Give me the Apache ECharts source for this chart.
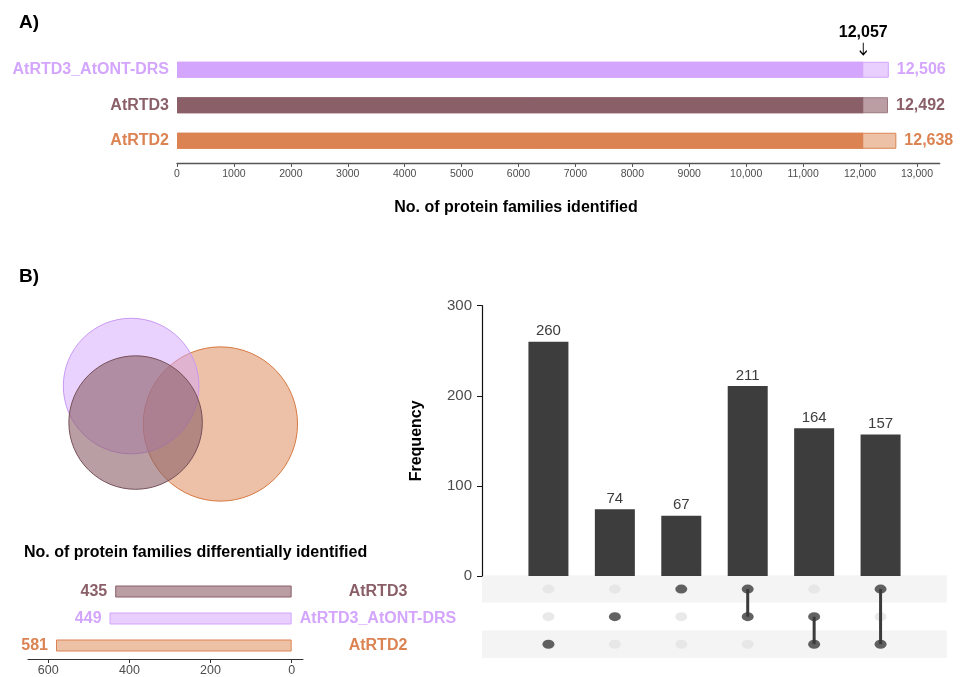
<!DOCTYPE html>
<html>
<head>
<meta charset="utf-8">
<script src="https://cdn.jsdelivr.net/npm/echarts@6/dist/echarts.min.js"></script>
<style>
  html, body { margin: 0; padding: 0; background: #ffffff; }
  #chart { width: 963px; height: 677px; }
</style>
</head>
<body>
<div id="chart"></div>
<script>
// ---- Panel A: protein families identified per annotation ----
const annotations = ['AtRTD3_AtONT-DRS', 'AtRTD3', 'AtRTD2'];
const familiesIdentified = [12506, 12492, 12638];
const sharedFamilies = 12057;
const identifiedTicks = [0, 1000, 2000, 3000, 4000, 5000, 6000, 7000, 8000, 9000, 10000, 11000, 12000, 13000];

// ---- Panel B: families differentially identified ----
const diffSets = ['AtRTD3', 'AtRTD3_AtONT-DRS', 'AtRTD2'];
const diffCounts = [435, 449, 581];
const diffTicks = [0, 200, 400, 600];

// ---- UpSet intersections ----
const intersectionSets = [
  ['AtRTD2'],
  ['AtRTD3_AtONT-DRS'],
  ['AtRTD3'],
  ['AtRTD3', 'AtRTD3_AtONT-DRS'],
  ['AtRTD3_AtONT-DRS', 'AtRTD2'],
  ['AtRTD3', 'AtRTD2']
];
const intersectionSizes = [260, 74, 67, 211, 164, 157];
const frequencyTicks = [0, 100, 200, 300];

// ---- Venn layout (layout units; radius = sqrt(set size)) ----
const vennOrder = ['AtRTD2', 'AtRTD3_AtONT-DRS', 'AtRTD3'];
const vennCentreX = [59.5, 31.6, 33.0];
const vennCentreY = [31.25, 43.1, 31.7];

const FONT = '"Liberation Sans", Arial, Helvetica, sans-serif';
const palette = {
  'AtRTD3_AtONT-DRS': { main: '#D4A5FC', light: '#E8CFFD', edge: '#D4A5FC', venn: 'rgba(212,165,252,0.5)', vennEdge: '#C898F2' },
  'AtRTD3':           { main: '#8A5F68', light: '#BA9EA3', edge: '#9C7880', venn: 'rgba(138,95,104,0.6)', vennEdge: '#76505A' },
  'AtRTD2':           { main: '#DB8352', light: '#EDC1A5', edge: '#DB8352', venn: 'rgba(219,131,82,0.5)', vennEdge: '#D67840' }
};
const DARK = '#3B3B3B';

const fmtThousands = v => v >= 10000 ? v.toLocaleString('en-US') : String(v);

// Panel A series data
const totalBars = familiesIdentified.map((v, i) => ({
  value: v,
  itemStyle: { color: palette[annotations[i]].light, borderColor: palette[annotations[i]].edge, borderWidth: 1 },
  label: { color: palette[annotations[i]].main }
}));
const sharedBars = annotations.map(a => ({ value: sharedFamilies, itemStyle: { color: palette[a].main } }));

// Panel B bar data
const diffBars = diffCounts.map((v, i) => ({
  value: v,
  itemStyle: { color: palette[diffSets[i]].light, borderColor: palette[diffSets[i]].main, borderWidth: 1 },
  label: { color: palette[diffSets[i]].main }
}));

// UpSet matrix data
const emptyDots = [], fullDots = [], linkSeries = [];
intersectionSets.forEach((members, i) => {
  diffSets.forEach(s => {
    (members.includes(s) ? fullDots : emptyDots).push([i + 1, s]);
  });
  if (members.length > 1) {
    const rows = members.map(m => diffSets.indexOf(m));
    const lo = diffSets[Math.min(...rows)], hi = diffSets[Math.max(...rows)];
    linkSeries.push({
      type: 'line', xAxisIndex: 3, yAxisIndex: 3, z: 3,
      data: [[i + 1, lo], [i + 1, hi]],
      symbol: 'none', silent: true,
      lineStyle: { color: DARK, width: 3 }
    });
  }
});

// Venn circles
const vennData = vennOrder.map((s, i) => [vennCentreX[i], vennCentreY[i], diffCounts[diffSets.indexOf(s)]]);

const dotPath = 'path://M10,5 A5,5 0 1,1 0,5 A5,5 0 1,1 10,5 Z';

const option = {
  animation: false,
  textStyle: { fontFamily: FONT },
  grid: [
    { left: 177, top: 52, width: 762.7, height: 106.5 },     // A bars
    { left: 28, top: 578, width: 275, height: 82.6 },         // B differential bars
    { left: 482, top: 305.7, width: 465, height: 270.3 },     // UpSet bars
    { left: 482, top: 575.3, width: 465, height: 82.7 },      // UpSet matrix
    { left: 30, top: 300, width: 320, height: 224 }           // Venn
  ],
  xAxis: [
    {
      gridIndex: 0, type: 'value', min: 0, max: 13400, offset: 4.5,
      axisLine: { show: true, lineStyle: { color: '#555555', width: 1.3 } },
      axisTick: { show: true, customValues: identifiedTicks, length: 4, lineStyle: { color: '#555555' } },
      axisLabel: { customValues: identifiedTicks, formatter: fmtThousands, fontSize: 10.5, color: '#4D4D4D', margin: 6 },
      splitLine: { show: false }
    },
    {
      gridIndex: 1, type: 'value', min: -28, max: 650, inverse: true,
      axisLine: { show: true, lineStyle: { color: '#333333', width: 1 } },
      axisTick: { show: true, customValues: diffTicks, length: 4, lineStyle: { color: '#333333' } },
      axisLabel: { customValues: diffTicks, fontSize: 12.5, color: '#4D4D4D', margin: 5 },
      splitLine: { show: false }
    },
    { gridIndex: 2, type: 'value', min: 0, max: 7, show: false },
    { gridIndex: 3, type: 'value', min: 0, max: 7, show: false },
    { gridIndex: 4, type: 'value', min: 0, max: 100, show: false }
  ],
  yAxis: [
    {
      gridIndex: 0, type: 'category', data: annotations, inverse: true,
      axisLine: { show: false }, axisTick: { show: false },
      axisLabel: { fontSize: 16, fontWeight: 'bold', margin: 8, color: (v) => palette[v].main }
    },
    {
      gridIndex: 1, type: 'category', data: diffSets, inverse: true, position: 'right',
      axisLine: { show: false }, axisTick: { show: false },
      axisLabel: { fontSize: 16, fontWeight: 'bold', margin: 75, align: 'center', color: (v) => palette[v].main }
    },
    {
      gridIndex: 2, type: 'value', min: 0, max: 300, interval: 100,
      axisLine: { show: true, lineStyle: { color: '#111111', width: 1.2 } },
      axisTick: { show: true, length: 5, lineStyle: { color: '#111111' } },
      axisLabel: { fontSize: 15, color: '#4D4D4D', margin: 10 },
      splitLine: { show: false },
      name: 'Frequency', nameLocation: 'middle', nameGap: 57,
      nameTextStyle: { fontSize: 16, fontWeight: 'bold', color: '#000000' }
    },
    {
      gridIndex: 3, type: 'category', data: diffSets, inverse: true,
      axisLine: { show: false }, axisTick: { show: false }, axisLabel: { show: false },
      splitLine: { show: false },
      splitArea: { show: true, areaStyle: { color: ['#F4F4F4', '#FFFFFF'] } }
    },
    { gridIndex: 4, type: 'value', min: 0, max: 70, show: false }
  ],
  graphic: [
    { type: 'text', left: 19, top: 13, style: { text: 'A)', font: 'bold 19px ' + FONT, fill: '#000' } },
    { type: 'text', left: 19, top: 267, style: { text: 'B)', font: 'bold 19px ' + FONT, fill: '#000' } },
    { type: 'text', x: 516, y: 208, style: { text: 'No. of protein families identified', font: 'bold 16px ' + FONT, fill: '#000', textAlign: 'center', textVerticalAlign: 'middle' } },
    { type: 'text', x: 24, y: 553, style: { text: 'No. of protein families differentially identified', font: 'bold 16px ' + FONT, fill: '#000', textAlign: 'left', textVerticalAlign: 'middle' } }
  ],
  series: [
    // A: full totals (light extension with outline)
    {
      type: 'bar', xAxisIndex: 0, yAxisIndex: 0, barWidth: 16, barGap: '-100%',
      data: totalBars,
      label: { show: true, position: 'right', distance: 8, fontSize: 16, fontWeight: 'bold', formatter: p => p.value.toLocaleString('en-US') }
    },
    // A: families shared by all annotations
    {
      type: 'bar', xAxisIndex: 0, yAxisIndex: 0, barWidth: 16, barGap: '-100%',
      data: sharedBars,
      markPoint: {
        silent: true,
        data: [{
          coord: [sharedFamilies, annotations[0]],
          symbol: 'path://M4,0 L4,12 M0.5,8 L4,12 L7.5,8',
          symbolSize: [7, 12],
          symbolOffset: [0, -21],
          itemStyle: { color: 'rgba(0,0,0,0)', borderColor: '#000', borderWidth: 1.2 },
          label: { show: true, position: 'top', distance: 1, formatter: sharedFamilies.toLocaleString('en-US'), fontSize: 16, fontWeight: 'bold', color: '#000' }
        }]
      }
    },
    // B: differentially identified counts
    {
      type: 'bar', xAxisIndex: 1, yAxisIndex: 1, barWidth: 12,
      data: diffBars,
      label: { show: true, position: 'left', distance: 8, fontSize: 16, fontWeight: 'bold' }
    },
    // UpSet intersection sizes
    {
      type: 'bar', xAxisIndex: 2, yAxisIndex: 2, barWidth: 40,
      data: intersectionSizes.map((v, i) => [i + 1, v]),
      itemStyle: { color: '#3D3D3D' },
      label: { show: true, position: 'top', distance: 3, fontSize: 15, color: '#3D3D3D', formatter: p => p.value[1] }
    },
    // UpSet matrix: inactive cells
    {
      type: 'scatter', xAxisIndex: 3, yAxisIndex: 3, z: 2, silent: true,
      data: emptyDots, symbol: dotPath, symbolSize: [12, 9],
      itemStyle: { color: '#E3E3E3' }
    },
    ...linkSeries,
    // UpSet matrix: member sets
    {
      type: 'scatter', xAxisIndex: 3, yAxisIndex: 3, z: 4, silent: true,
      data: fullDots, symbol: dotPath, symbolSize: [12, 9],
      itemStyle: { color: DARK }
    },
    // Venn diagram
    {
      type: 'custom', xAxisIndex: 4, yAxisIndex: 4, silent: true,
      data: vennData,
      encode: { x: 0, y: 1 },
      renderItem: (params, api) => {
        const c = api.coord([api.value(0), api.value(1)]);
        const r = api.size([Math.sqrt(api.value(2)), 0])[0];
        const p = palette[vennOrder[params.dataIndex]];
        return {
          type: 'circle',
          shape: { cx: c[0], cy: c[1], r: r },
          style: { fill: p.venn, stroke: p.vennEdge, lineWidth: 1 }
        };
      }
    }
  ]
};

const chart = echarts.init(document.getElementById('chart'), null, { renderer: 'canvas' });
chart.setOption(option);
</script>
</body>
</html>
